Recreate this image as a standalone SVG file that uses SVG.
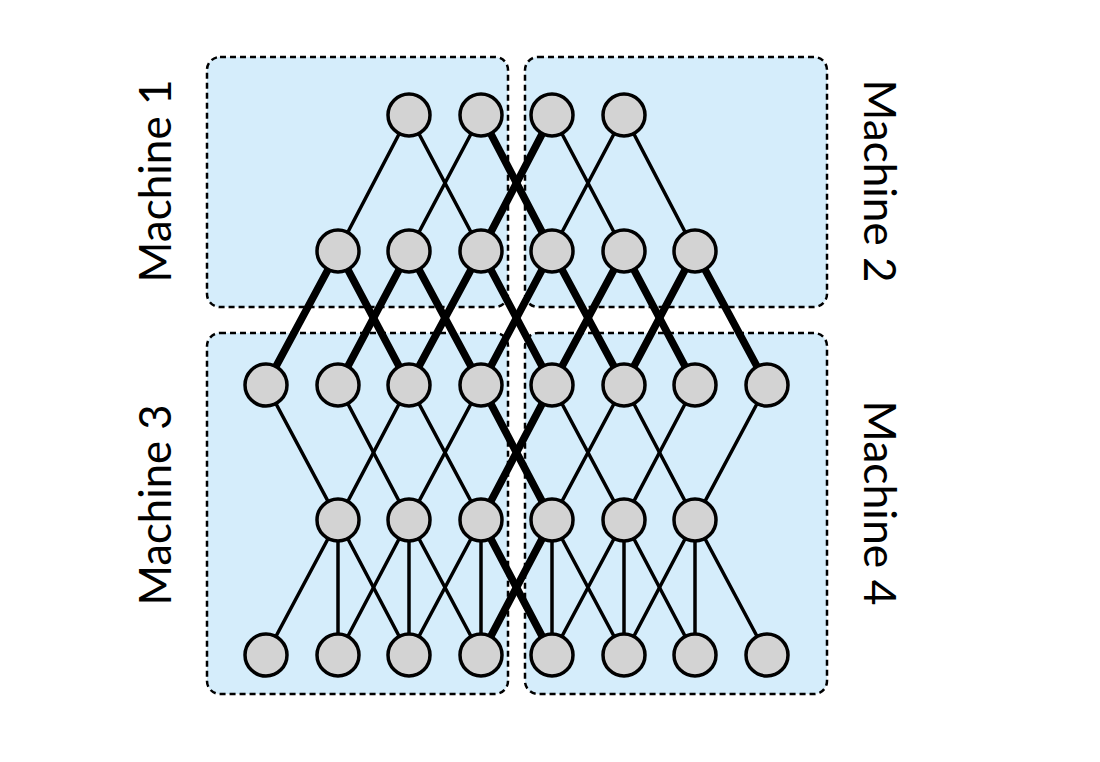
<svg xmlns="http://www.w3.org/2000/svg" width="1100" height="762" viewBox="0 0 1100 762">
  <style>
    .machine { fill: #d5edfb; stroke: #000; stroke-width: 2.5; stroke-dasharray: 6 4; }
    .thin { stroke: #000; stroke-width: 3.5; stroke-linecap: round; }
    .thick { stroke: #000; stroke-width: 7.5; stroke-linecap: round; }
    .node { fill: #d3d3d3; stroke: #000; stroke-width: 3.5; }
    .label { font-family: Lato, "Open Sans", sans-serif; font-size: 44px; fill: #000; text-anchor: middle; }
  </style>
  <rect width="1100" height="762" fill="#fff"/>

  <!-- machine partitions -->
  <g id="machines">
    <rect id="machine1" class="machine" x="207" y="57" width="301" height="250" rx="13"/>
    <rect id="machine2" class="machine" x="525" y="57" width="302" height="250" rx="13"/>
    <rect id="machine3" class="machine" x="207" y="333" width="301" height="361" rx="13"/>
    <rect id="machine4" class="machine" x="525" y="333" width="302" height="361" rx="13"/>
  </g>

  <!-- edges between layers -->
  <g id="connectors">
    <!-- layer 1 -> layer 2 -->
    <line class="thin" x1="409" y1="115" x2="338" y2="251"/>
    <line class="thin" x1="409" y1="115" x2="481" y2="251"/>
    <line class="thin" x1="481" y1="115" x2="409" y2="251"/>
    <line class="thick" x1="481" y1="115" x2="552" y2="251"/>
    <line class="thick" x1="552" y1="115" x2="481" y2="251"/>
    <line class="thin" x1="552" y1="115" x2="624" y2="251"/>
    <line class="thin" x1="624" y1="115" x2="552" y2="251"/>
    <line class="thin" x1="624" y1="115" x2="695" y2="251"/>
    <!-- layer 2 -> layer 3 -->
    <line class="thick" x1="338" y1="251" x2="266" y2="385"/>
    <line class="thick" x1="338" y1="251" x2="409" y2="385"/>
    <line class="thick" x1="409" y1="251" x2="338" y2="385"/>
    <line class="thick" x1="409" y1="251" x2="481" y2="385"/>
    <line class="thick" x1="481" y1="251" x2="409" y2="385"/>
    <line class="thick" x1="481" y1="251" x2="552" y2="385"/>
    <line class="thick" x1="552" y1="251" x2="481" y2="385"/>
    <line class="thick" x1="552" y1="251" x2="624" y2="385"/>
    <line class="thick" x1="624" y1="251" x2="552" y2="385"/>
    <line class="thick" x1="624" y1="251" x2="695" y2="385"/>
    <line class="thick" x1="695" y1="251" x2="624" y2="385"/>
    <line class="thick" x1="695" y1="251" x2="767" y2="385"/>
    <!-- layer 3 -> layer 4 -->
    <line class="thin" x1="266" y1="385" x2="338" y2="520"/>
    <line class="thin" x1="338" y1="385" x2="409" y2="520"/>
    <line class="thin" x1="409" y1="385" x2="338" y2="520"/>
    <line class="thin" x1="409" y1="385" x2="481" y2="520"/>
    <line class="thin" x1="481" y1="385" x2="409" y2="520"/>
    <line class="thick" x1="481" y1="385" x2="552" y2="520"/>
    <line class="thick" x1="552" y1="385" x2="481" y2="520"/>
    <line class="thin" x1="552" y1="385" x2="624" y2="520"/>
    <line class="thin" x1="624" y1="385" x2="552" y2="520"/>
    <line class="thin" x1="624" y1="385" x2="695" y2="520"/>
    <line class="thin" x1="695" y1="385" x2="624" y2="520"/>
    <line class="thin" x1="767" y1="385" x2="695" y2="520"/>
    <!-- layer 4 -> layer 5 -->
    <line class="thin" x1="338" y1="520" x2="266" y2="655"/>
    <line class="thin" x1="338" y1="520" x2="338" y2="655"/>
    <line class="thin" x1="338" y1="520" x2="409" y2="655"/>
    <line class="thin" x1="409" y1="520" x2="338" y2="655"/>
    <line class="thin" x1="409" y1="520" x2="409" y2="655"/>
    <line class="thin" x1="409" y1="520" x2="481" y2="655"/>
    <line class="thin" x1="481" y1="520" x2="409" y2="655"/>
    <line class="thin" x1="481" y1="520" x2="481" y2="655"/>
    <line class="thick" x1="481" y1="520" x2="552" y2="655"/>
    <line class="thick" x1="552" y1="520" x2="481" y2="655"/>
    <line class="thin" x1="552" y1="520" x2="552" y2="655"/>
    <line class="thin" x1="552" y1="520" x2="624" y2="655"/>
    <line class="thin" x1="624" y1="520" x2="552" y2="655"/>
    <line class="thin" x1="624" y1="520" x2="624" y2="655"/>
    <line class="thin" x1="624" y1="520" x2="695" y2="655"/>
    <line class="thin" x1="695" y1="520" x2="624" y2="655"/>
    <line class="thin" x1="695" y1="520" x2="695" y2="655"/>
    <line class="thin" x1="695" y1="520" x2="767" y2="655"/>
  </g>

  <!-- layer 1 -->
  <g id="n1_3"><circle class="node" cx="409" cy="115" r="21"/></g>
  <g id="n1_4"><circle class="node" cx="481" cy="115" r="21"/></g>
  <g id="n1_5"><circle class="node" cx="552" cy="115" r="21"/></g>
  <g id="n1_6"><circle class="node" cx="624" cy="115" r="21"/></g>
  <!-- layer 2 -->
  <g id="n2_2"><circle class="node" cx="338" cy="251" r="21"/></g>
  <g id="n2_3"><circle class="node" cx="409" cy="251" r="21"/></g>
  <g id="n2_4"><circle class="node" cx="481" cy="251" r="21"/></g>
  <g id="n2_5"><circle class="node" cx="552" cy="251" r="21"/></g>
  <g id="n2_6"><circle class="node" cx="624" cy="251" r="21"/></g>
  <g id="n2_7"><circle class="node" cx="695" cy="251" r="21"/></g>
  <!-- layer 3 -->
  <g id="n3_1"><circle class="node" cx="266" cy="385" r="21"/></g>
  <g id="n3_2"><circle class="node" cx="338" cy="385" r="21"/></g>
  <g id="n3_3"><circle class="node" cx="409" cy="385" r="21"/></g>
  <g id="n3_4"><circle class="node" cx="481" cy="385" r="21"/></g>
  <g id="n3_5"><circle class="node" cx="552" cy="385" r="21"/></g>
  <g id="n3_6"><circle class="node" cx="624" cy="385" r="21"/></g>
  <g id="n3_7"><circle class="node" cx="695" cy="385" r="21"/></g>
  <g id="n3_8"><circle class="node" cx="767" cy="385" r="21"/></g>
  <!-- layer 4 -->
  <g id="n4_2"><circle class="node" cx="338" cy="520" r="21"/></g>
  <g id="n4_3"><circle class="node" cx="409" cy="520" r="21"/></g>
  <g id="n4_4"><circle class="node" cx="481" cy="520" r="21"/></g>
  <g id="n4_5"><circle class="node" cx="552" cy="520" r="21"/></g>
  <g id="n4_6"><circle class="node" cx="624" cy="520" r="21"/></g>
  <g id="n4_7"><circle class="node" cx="695" cy="520" r="21"/></g>
  <!-- layer 5 -->
  <g id="n5_1"><circle class="node" cx="266" cy="655" r="21"/></g>
  <g id="n5_2"><circle class="node" cx="338" cy="655" r="21"/></g>
  <g id="n5_3"><circle class="node" cx="409" cy="655" r="21"/></g>
  <g id="n5_4"><circle class="node" cx="481" cy="655" r="21"/></g>
  <g id="n5_5"><circle class="node" cx="552" cy="655" r="21"/></g>
  <g id="n5_6"><circle class="node" cx="624" cy="655" r="21"/></g>
  <g id="n5_7"><circle class="node" cx="695" cy="655" r="21"/></g>
  <g id="n5_8"><circle class="node" cx="767" cy="655" r="21"/></g>

  <!-- machine labels -->
  <g id="labels">
    <text class="label" transform="translate(171,181) rotate(-90)" textLength="203" lengthAdjust="spacingAndGlyphs">Machine 1</text>
    <text class="label" transform="translate(171,505) rotate(-90)" textLength="201" lengthAdjust="spacingAndGlyphs">Machine 3</text>
    <text class="label" transform="translate(864,181) rotate(90)" textLength="203" lengthAdjust="spacingAndGlyphs">Machine 2</text>
    <text class="label" transform="translate(864,503) rotate(90)" textLength="205" lengthAdjust="spacingAndGlyphs">Machine 4</text>
  </g>
</svg>
